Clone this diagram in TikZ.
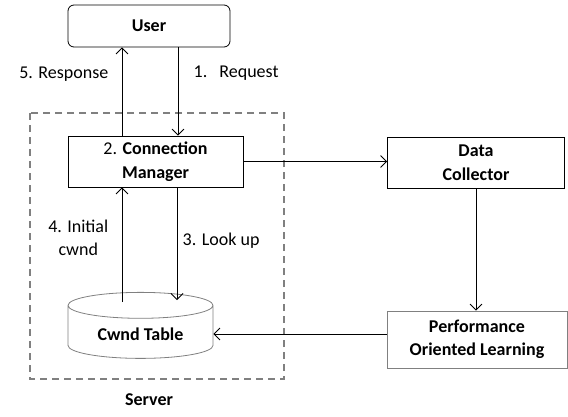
\documentclass[tikz,border=0pt]{standalone}
\usepackage{fontspec}
\setmainfont{Carlito}
\usetikzlibrary{arrows.meta,shapes.geometric}

\newcommand{\figfont}{\fontsize{18}{23.5}\selectfont}

\tikzset{
    block/.style={draw, line width=0.8pt, minimum width=175pt, minimum height=51pt,
        align=center, font=\figfont\bfseries},
    flow/.style={line width=0.8pt, ->},
    lbl/.style={font=\figfont, align=center}
}

\begin{document}
\begin{tikzpicture}[x=1pt, y=-1pt, >={Straight Barb[length=6pt, width=12pt]},
        font=\figfont]
        \useasboundingbox (0,0) rectangle (568,416);
        \node [block, rounded corners=6pt, minimum width=162pt, minimum height=42pt]
            (user) at (149,26) {User};
        \node [block] (cm) at (155.5,161.5) {\mdseries 2. \bfseries Connection\\Manager};
        \node [block, minimum width=177pt] (dc) at (476,162.5) {Data\\Collector};
        \node [block, draw=gray, minimum width=180pt, minimum height=57pt]
            (pol) at (477,339.5) {Performance\\Oriented Learning};
        \node [draw=gray, line width=0.8pt, cylinder, shape border rotate=90,
            minimum width=145pt, minimum height=66pt, aspect=0.28, font=\figfont\bfseries]
            (table) at (140.5,334) {Cwnd Table};
        \draw [line width=1.6pt, gray, dash pattern=on 7pt off 5pt] (30,113) rectangle (284,379);
        \node [font=\figfont\bfseries] (server) at (149,400) {Server};

        \draw [flow] (cm.north -| 122,0) -- (user.south -| 122,0)
            node[pos=0.7, anchor=east, xshift=-10pt]{5. Response};
        \draw [flow] (user.south -| 178,0) -- (cm.north -| 178,0)
            node[pos=0.29, anchor=west, xshift=12pt]{1.\hspace{12pt}Request};
        \draw [flow] (cm.east) -- (cm.east -| dc.west);
        \draw [flow] (dc.south) -- (dc.south |- pol.north);
        \draw [flow] (table.east -| pol.west) -- (table.east);
        \draw [flow] (cm.south -| 177,0) -- (177,300)
            node[pos=0.47, anchor=west, xshift=2pt]{3. Look up};
        \draw [flow] (122,302) -- (cm.south -| 122,0)
            node[pos=0.56, anchor=east, xshift=-10pt, lbl]{4. Initial\\cwnd};
    \end{tikzpicture}
\end{document}
